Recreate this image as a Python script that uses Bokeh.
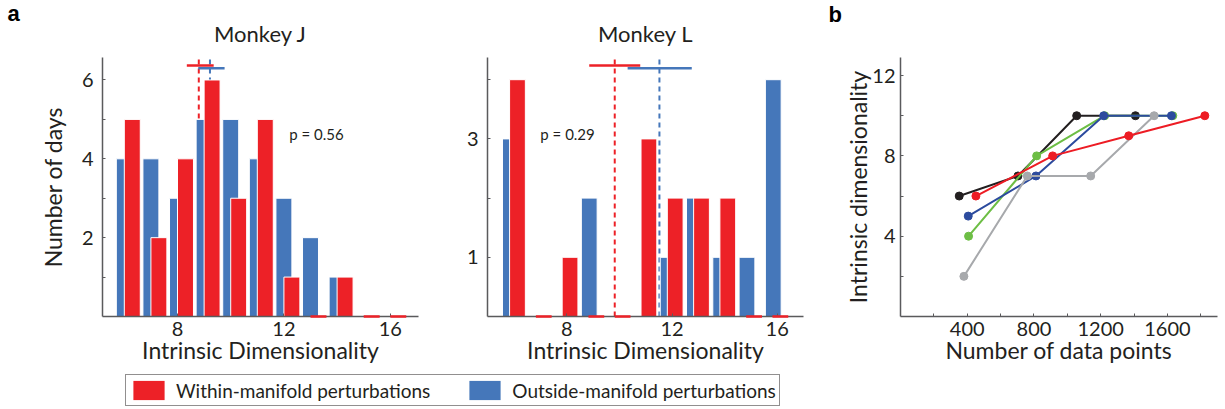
import numpy as np
from bokeh.plotting import figure
from bokeh.layouts import row, column
from bokeh.models import (ColumnDataSource, FixedTicker, Range1d, Label, Legend,
                          LegendItem, CDSView, BooleanFilter)
from bokeh.embed import file_html
from bokeh.resources import INLINE

# ---- Panel a: distribution of intrinsic dimensionality across days ----
dims = [6, 7, 8, 9, 10, 11, 12, 13, 14, 15, 16]

j_within = [5, 2, 4, 6, 3, 5, 1, 0, 1, 0, 0]
j_outside = [4, 4, 3, 5, 5, 4, 3, 2, 1, 0, 0]
l_within = [4, 0, 1, 0, 0, 3, 2, 2, 2, 0, 0]
l_outside = [3, 0, 0, 2, 0, 0, 1, 2, 1, 1, 4]

# mean and interval of each distribution
j_within_mean, j_within_ci = 8.8, (8.35, 9.36)
j_outside_mean, j_outside_ci = 9.22, (8.78, 9.77)
l_within_mean, l_within_ci = 9.82, (8.85, 10.79)
l_outside_mean, l_outside_ci = 11.52, (10.31, 12.75)

j_ptext = "p = 0.56"
l_ptext = "p = 0.29"

# ---- Panel b: dimensionality vs number of data points ----
black_n = [352, 704, 1056, 1408]
black_dim = [6, 7, 10, 10]
green_n = [408, 816, 1224, 1632]
green_dim = [4, 8, 10, 10]
blue_n = [406, 812, 1218, 1624]
blue_dim = [5, 7, 10, 10]
gray_n = [380, 760, 1140, 1520]
gray_dim = [2, 7, 7, 10]
red_n = [452, 912, 1368, 1824]
red_dim = [6, 8, 9, 10]

FONT = "Lato"
INK = "#231F20"
AXIS = "#5A5A5C"
RED = "#ED2127"
BLUE = "#4577BA"
BAR_W = 0.6
HEADER_H = 50
PANEL_H = 370 - HEADER_H
TOP = 57 - HEADER_H


def style_axes(p):
    for ax in (p.xaxis[0], p.yaxis[0]):
        ax.axis_line_color = AXIS
        ax.axis_line_width = 1.5
        ax.major_tick_line_color = AXIS
        ax.minor_tick_line_color = AXIS
        ax.major_tick_in = 3
        ax.major_tick_out = 0
        ax.minor_tick_in = 3
        ax.minor_tick_out = 0
        ax.major_label_text_font = FONT
        ax.major_label_text_font_size = "20px"
        ax.major_label_text_color = INK
        ax.axis_label_text_font = FONT
        ax.axis_label_text_font_size = "23px"
        ax.axis_label_text_font_style = "normal"
        ax.axis_label_text_color = INK
    p.xaxis.major_label_standoff = 5
    p.xaxis.axis_label_standoff = -3
    p.yaxis.major_label_standoff = 9
    p.grid.visible = False
    p.outline_line_color = None
    p.background_fill_color = "white"
    p.border_fill_color = "white"


def histogram_panel(within, outside, w_mean, w_ci, o_mean, o_ci, ptext,
                    p_xy, xr, yr, yticks, yminor, width, left, right,
                    w_shift, o_shift, w_bar_y, o_bar_y, ylabel=None):
    p = figure(width=width, height=PANEL_H, x_range=Range1d(*xr), y_range=Range1d(*yr),
               toolbar_location=None, output_backend="svg",
               min_border_left=left, min_border_right=right,
               min_border_top=TOP, min_border_bottom=54)

    xw = [d + w_shift for d in dims]
    xo = [d + o_shift for d in dims]
    src = ColumnDataSource(dict(
        xw=xw, xo=xo, within=within, outside=outside,
        xw0=[x - BAR_W / 2 for x in xw], xw1=[x + BAR_W / 2 for x in xw],
        zero=[0] * len(dims)))

    # mean lines behind the bars
    p.ray(x=[w_mean], y=[0], length=0, angle=np.pi / 2, line_color=RED,
          line_width=2, line_dash="5 4")
    p.ray(x=[o_mean], y=[0], length=0, angle=np.pi / 2, line_color=BLUE,
          line_width=2, line_dash="5 4")

    p.vbar(x="xo", top="outside", width=BAR_W, source=src, fill_color=BLUE,
           line_color="white", line_width=1)
    p.vbar(x="xw", top="within", width=BAR_W, source=src, fill_color=RED,
           line_color="white", line_width=1)
    empty = CDSView(filter=BooleanFilter([c == 0 for c in within]))
    p.segment(x0="xw0", x1="xw1", y0="zero", y1="zero", source=src, view=empty,
              line_color=RED, line_width=2.5, level="overlay")

    # intervals of the means
    p.segment(x0=[o_ci[0]], x1=[o_ci[1]], y0=[o_bar_y], y1=[o_bar_y],
              line_color=BLUE, line_width=2.5)
    p.segment(x0=[w_ci[0]], x1=[w_ci[1]], y0=[w_bar_y], y1=[w_bar_y],
              line_color=RED, line_width=2.5)

    p.add_layout(Label(x=p_xy[0], y=p_xy[1], text=ptext, text_font=FONT,
                       text_font_size="15px", text_color=INK,
                       text_baseline="middle"))

    p.xaxis.ticker = FixedTicker(ticks=[8, 12, 16])
    p.yaxis.ticker = FixedTicker(ticks=yticks, minor_ticks=yminor)
    p.xaxis.axis_label = "Intrinsic Dimensionality"
    if ylabel:
        p.yaxis.axis_label = ylabel
    style_axes(p)
    p.xaxis.minor_tick_line_color = None
    if ylabel:
        p.yaxis.axis_label_standoff = 12
    return p, src


p1, src_j = histogram_panel(j_within, j_outside, j_within_mean, j_within_ci,
                            j_outside_mean, j_outside_ci, j_ptext, (12.2, 4.64),
                            (5.18, 17.06), (0, 6.57), [2, 4, 6], [1, 3, 5],
                            420, 102, 2, 0.3, 0.0, 6.37, 6.30, ylabel="Number of days")

p2, src_l = histogram_panel(l_within, l_outside, l_within_mean, l_within_ci,
                            l_outside_mean, l_outside_ci, l_ptext, (6.99, 3.09),
                            (4.98, 17.0), (0, 4.375), [1, 3], [2, 4],
                            400, 67, 17, 0.12, -0.15, 4.24, 4.195)

# ---- Panel b ----
p3 = figure(width=405, height=PANEL_H, x_range=Range1d(0, 1900), y_range=Range1d(0, 12.9),
            toolbar_location=None, output_backend="svg",
            min_border_left=80, min_border_right=8, min_border_top=TOP,
            min_border_bottom=54)
series = [
    (black_n, black_dim, "#231F20"),
    (green_n, green_dim, "#6DBE45"),
    (blue_n, blue_dim, "#2C4B9E"),
    (gray_n, gray_dim, "#A7A9AC"),
    (red_n, red_dim, "#ED1C24"),
]
for n, d, c in series:
    s = ColumnDataSource(dict(n=n, d=d))
    p3.line("n", "d", source=s, line_color=c, line_width=2)
    p3.scatter("n", "d", source=s, size=8, fill_color=c, line_color=c)
p3.xaxis.ticker = FixedTicker(ticks=[400, 800, 1200, 1600],
                              minor_ticks=[200, 600, 1000, 1400, 1800])
p3.yaxis.ticker = FixedTicker(ticks=[4, 8, 12], minor_ticks=[2, 6, 10])
p3.xaxis.axis_label = "Number of data points"
p3.yaxis.axis_label = "Intrinsic dimensionality"
style_axes(p3)
p3.yaxis.major_label_standoff = 5
p3.yaxis.axis_label_standoff = -3

# ---- header strip: panel letters and panel titles (pixel coordinates) ----
head = figure(width=1225, height=HEADER_H, x_range=Range1d(0, 1225),
              y_range=Range1d(HEADER_H, 0), toolbar_location=None,
              output_backend="svg", min_border=0, x_axis_type=None, y_axis_type=None)
head.outline_line_color = None
head.grid.visible = False
for letter, lx, ly in (("a", 7, 13), ("b", 828, 14)):
    head.add_layout(Label(x=lx, y=ly, text=letter, text_font="Liberation Sans",
                          text_font_size="22px", text_font_style="bold",
                          text_color="black", text_baseline="middle"))
for title, tx in (("Monkey J", 260), ("Monkey L", 645)):
    head.add_layout(Label(x=tx, y=32.5, text=title, text_font=FONT,
                          text_font_size="22px", text_color=INK,
                          text_align="center", text_baseline="middle"))

# ---- shared legend (its bars sit outside the visible range) ----
leg = figure(width=1225, height=39, x_range=Range1d(0, 1), y_range=Range1d(0, 1),
             toolbar_location=None, output_backend="svg", min_border=0,
             x_axis_type=None, y_axis_type=None)
leg.outline_line_color = None
leg.grid.visible = False
r_w = leg.vbar(x="xw", top="within", width=BAR_W, source=src_j, fill_color=RED,
               line_color=None)
r_o = leg.vbar(x="xo", top="outside", width=BAR_W, source=src_j, fill_color=BLUE,
               line_color=None)
legend = Legend(items=[
    LegendItem(label="Within-manifold perturbations", renderers=[r_w]),
    LegendItem(label="Outside-manifold perturbations", renderers=[r_o]),
], orientation="horizontal", location=(125, 3))
legend.glyph_width = 39
legend.glyph_height = 24
legend.label_standoff = 8
legend.padding = 3
legend.spacing = 35
legend.margin = 0
legend.label_text_font = FONT
legend.label_text_font_size = "19px"
legend.label_text_color = INK
legend.border_line_color = INK
legend.border_line_width = 1.5
legend.background_fill_alpha = 1
leg.add_layout(legend, "center")

layout = column(head, row(p1, p2, p3), leg)
open("out.html", "w").write(file_html(layout, INLINE))
